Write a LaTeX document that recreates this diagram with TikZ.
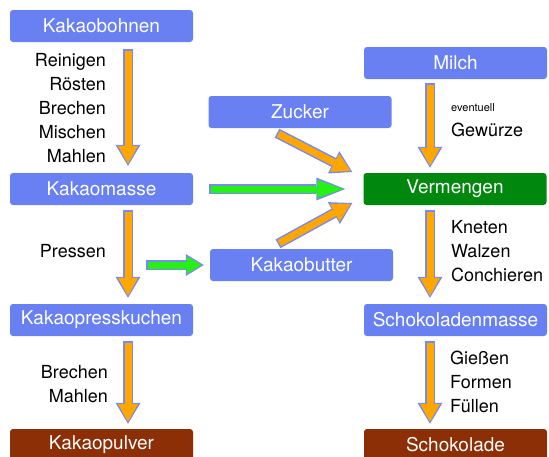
\documentclass[tikz,border=0pt]{standalone}
\usepackage{fontspec}
\setmainfont{TeX Gyre Heros}
\usetikzlibrary{arrows.meta}
\definecolor{stageblue}{RGB}{104,128,242}
\definecolor{edgeblue}{RGB}{118,138,240}
\definecolor{cocoabrown}{RGB}{140,46,6}
\definecolor{mixgreen}{RGB}{0,136,14}
\definecolor{flowgold}{RGB}{255,166,0}
\definecolor{feedgreen}{RGB}{38,240,20}

\begin{document}
\begin{tikzpicture}[x=1pt,y=-1pt,stage/.style={rectangle, rounded corners=3pt, fill=stageblue, text=white, minimum width=183pt, minimum height=32pt, inner sep=0pt, font=\fontsize{19}{23}\selectfont},product/.style={stage, fill=cocoabrown},mixbox/.style={stage, fill=mixgreen},stepnote/.style={align=left, inner sep=0pt, font=\fontsize{18}{24}\selectfont},flow/.style={draw=edgeblue, line width=10pt, -{Triangle[length=21pt,width=25pt,line width=0pt]}, postaction={draw=flowgold, line width=7pt, shorten <=1.5pt, shorten >=2pt, -{Triangle[length=18pt,width=20pt,line width=0pt]}}},feed/.style={draw=edgeblue, line width=10pt, -{Triangle[length=18pt,width=22pt,line width=0pt]}, postaction={draw=feedgreen, line width=7pt, shorten <=1.5pt, shorten >=2pt, -{Triangle[length=15pt,width=17pt,line width=0pt]}}},longfeed/.style={draw=edgeblue, line width=10pt, -{Triangle[length=29pt,width=23pt,line width=0pt]}, postaction={draw=feedgreen, line width=7pt, shorten <=1.5pt, shorten >=2pt, -{Triangle[length=26pt,width=18pt,line width=0pt]}}}]
\useasboundingbox (0,0) rectangle (549,456);
% left column: cocoa
\node[stage] (beans) at (101.5,26) {Kakaobohnen}; \node[stage] (mass) at (101.5,189) {Kakaomasse};
\node[stage] (cake) at (101.5,320) {Kakaopresskuchen}; \node[product] (powder) at (101.5,445) {Kakaopulver};
% middle column
\node[stage] (sugar) at (300,112) {Zucker}; \node[stage] (butter) at (301.5,265) {Kakaobutter};
% right column: chocolate
\node[stage] (milk) at (455.5,63) {Milch}; \node[mixbox] (mix) at (455,189) {Vermengen};
\node[stage] (chocmass) at (455.5,320) {Schokoladenmasse}; \node[product] (choc) at (455.5,445) {Schokolade};
\coordinate (split) at (146,265);
\draw[flow] ([xshift=26.5pt,yshift=-7pt]beans.south) -- ([xshift=26.5pt,yshift=7pt]mass.north);
\draw[flow] ([xshift=26.5pt,yshift=-5pt]mass.south) -- ([xshift=26.5pt,yshift=6pt]cake.north);
\draw[flow] ([xshift=26.5pt,yshift=-5pt]cake.south) -- ([xshift=26.5pt,yshift=5pt]powder.north);
\draw[flow] ([xshift=-25.5pt,yshift=-4pt]milk.south) -- ([xshift=-25pt,yshift=5pt]mix.north);
\draw[flow] ([xshift=-25pt,yshift=-5pt]mix.south) -- ([xshift=-25.5pt,yshift=6pt]chocmass.north);
\draw[flow] ([xshift=-25.5pt,yshift=-5pt]chocmass.south) -- ([xshift=-25.5pt,yshift=5pt]choc.north);
\draw[flow] ([xshift=-23pt,yshift=-5pt]sugar.south) -- ([xshift=-11pt,yshift=17pt]mix.west);
\draw[flow] ([xshift=-23.5pt,yshift=5pt]butter.north) -- ([xshift=-11pt,yshift=-14pt]mix.west);
\draw[longfeed] ([xshift=16pt]mass.east) -- ([xshift=-18pt]mix.west);
\draw[feed] (split) -- ([xshift=-6pt]butter.west);
% process steps
\node[stepnote, anchor=east, align=right] (clean) at (106,108) {Reinigen\\Rösten\\Brechen\\Mischen\\Mahlen};
\node[stepnote, anchor=east, align=right] (press) at (106,251) {Pressen};
\node[stepnote, anchor=east, align=right] (grind) at (108,384) {Brechen\\Mahlen};
\node[stepnote, anchor=west, font=\fontsize{11}{13}\selectfont] (maybe) at (451,108) {eventuell};
\node[stepnote, anchor=west] (spice) at (451,130) {Gewürze};
\node[stepnote, anchor=west] (conch) at (451,251) {Kneten\\Walzen\\Conchieren};
\node[stepnote, anchor=west] (mould) at (450,382) {Gießen\\Formen\\Füllen};
\end{tikzpicture}
\end{document}
